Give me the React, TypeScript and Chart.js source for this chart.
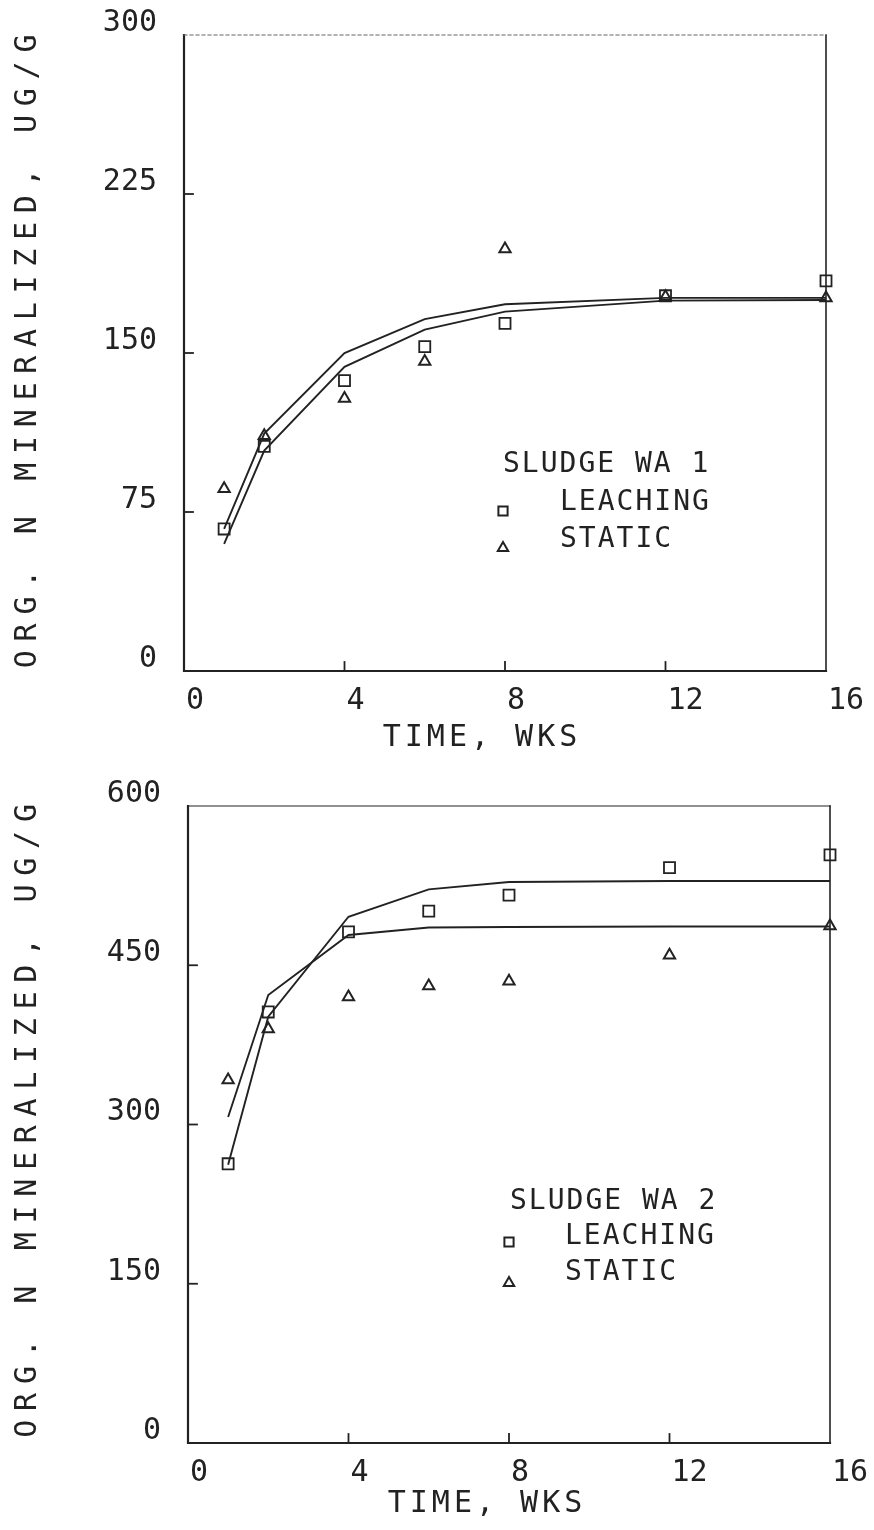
import React, { useEffect, useRef } from 'react';
import { Chart, registerables } from 'chart.js';

Chart.register(...registerables);

// ---------- data ----------
const weeks = [1, 2, 4, 6, 8, 12, 16];
const xTickValues = [0, 4, 8, 12, 16];

// Sludge WA 1
const wa1YTicks = [0, 75, 150, 225, 300];
const wa1Leaching = [67, 106, 137, 153, 164, 177, 184];
const wa1Static = [86, 111, 128.5, 146, 199, 176.5, 176];
const wa1FitA = [67, 112, 150, 166, 173, 176, 176];
const wa1FitB = [60, 104, 143.5, 161, 169.5, 174.7, 175];

// Sludge WA 2
const wa2YTicks = [0, 150, 300, 450, 600];
const wa2Leaching = [263, 406, 481.5, 501, 516, 542, 554];
const wa2Static = [342, 390, 420, 430.5, 435, 459.5, 487];
const wa2FitLeaching = [262, 401.5, 495.7, 521.5, 528.4, 529.3, 529.3];
const wa2FitStatic = [307, 422, 478.5, 485.5, 486, 486.5, 486.5];

const xTitle = 'TIME, WKS';
const yTitle = 'ORG. N MINERALIZED, UG/G';
const legendLeaching = 'LEACHING';
const legendStatic = 'STATIC';

const FONT = '"DejaVu Sans Mono", "Liberation Mono", monospace';
const INK = '#222222';
const W = 874;
const H = 765;

type PanelCfg = {
  legendTitle: string;
  leaching: number[];
  stat: number[];
  fits: number[][];
  yMax: number;
  yTicks: number[];
  area: { left: number; top: number; right: number; bottom: number };
  xTitlePos: { dx: number; dy: number };
  yTitlePos: { x: number; dy: number };
  legend: { titleDx: number; itemDx: number; markDx: number; titleDy: number; l1Dy: number; l2Dy: number; m1Dy: number; m2Dy: number };
  dottedTop: boolean;
};

const panels: PanelCfg[] = [
  {
    legendTitle: 'SLUDGE WA 1',
    leaching: wa1Leaching,
    stat: wa1Static,
    fits: [wa1FitA, wa1FitB],
    yMax: 300,
    yTicks: wa1YTicks,
    area: { left: 184, top: 35, right: 826, bottom: 671 },
    xTitlePos: { dx: 298, dy: 67 },
    yTitlePos: { x: 28, dy: -6 },
    legend: { titleDx: 319, itemDx: 376, markDx: 319, titleDy: 430, l1Dy: 468, l2Dy: 505, m1Dy: 476, m2Dy: 513 },
    dottedTop: true,
  },
  {
    legendTitle: 'SLUDGE WA 2',
    leaching: wa2Leaching,
    stat: wa2Static,
    fits: [wa2FitLeaching, wa2FitStatic],
    yMax: 600,
    yTicks: wa2YTicks,
    area: { left: 188, top: 41, right: 830, bottom: 678 },
    xTitlePos: { dx: 299, dy: 61 },
    yTitlePos: { x: 28, dy: -8 },
    legend: { titleDx: 322, itemDx: 377, markDx: 321, titleDy: 396, l1Dy: 431, l2Dy: 467, m1Dy: 436, m2Dy: 477 },
    dottedTop: false,
  },
];

function drawSquare(ctx: CanvasRenderingContext2D, x: number, y: number, r: number) {
  const s = Math.SQRT1_2 * r;
  ctx.beginPath();
  ctx.rect(x - s, y - s, 2 * s, 2 * s);
  ctx.stroke();
}
function drawTriangle(ctx: CanvasRenderingContext2D, x: number, y: number, r: number) {
  ctx.beginPath();
  ctx.moveTo(x, y - r);
  ctx.lineTo(x + 0.866 * r, y + r / 2);
  ctx.lineTo(x - 0.866 * r, y + r / 2);
  ctx.closePath();
  ctx.stroke();
}

function makeDecorPlugin(cfg: PanelCfg) {
  return {
    id: 'decor',
    afterDraw(chart: any) {
      const { ctx, chartArea: a, scales } = chart;
      ctx.save();
      ctx.strokeStyle = INK;
      ctx.lineCap = 'square';
      // left + bottom axis lines
      ctx.lineWidth = 2.2;
      ctx.beginPath();
      ctx.moveTo(a.left, a.top);
      ctx.lineTo(a.left, a.bottom);
      ctx.lineTo(a.right, a.bottom);
      ctx.stroke();
      // right border
      ctx.lineWidth = 1.6;
      ctx.beginPath();
      ctx.moveTo(a.right, a.bottom);
      ctx.lineTo(a.right, a.top);
      ctx.stroke();
      // top border
      ctx.lineWidth = 1.2;
      if (cfg.dottedTop) {
        ctx.strokeStyle = '#666';
        ctx.setLineDash([3, 3]);
      }
      ctx.beginPath();
      ctx.moveTo(a.left, a.top);
      ctx.lineTo(a.right, a.top);
      ctx.stroke();
      ctx.setLineDash([]);
      ctx.strokeStyle = INK;
      // inward ticks
      ctx.lineWidth = 1.8;
      cfg.yTicks.forEach((v) => {
        if (v === 0 || v === cfg.yMax) return;
        const y = scales.y.getPixelForValue(v);
        ctx.beginPath();
        ctx.moveTo(a.left, y);
        ctx.lineTo(a.left + 9, y);
        ctx.stroke();
      });
      xTickValues.forEach((v) => {
        if (v === 0 || v === 16) return;
        const x = scales.x.getPixelForValue(v);
        ctx.beginPath();
        ctx.moveTo(x, a.bottom);
        ctx.lineTo(x, a.bottom - 9);
        ctx.stroke();
      });

      // axis titles
      ctx.fillStyle = INK;
      ctx.textBaseline = 'middle';
      ctx.textAlign = 'center';
      ctx.font = `30px ${FONT}`;
      (ctx as any).letterSpacing = '4px';
      ctx.fillText(xTitle, a.left + cfg.xTitlePos.dx, a.bottom + cfg.xTitlePos.dy);
      ctx.save();
      (ctx as any).letterSpacing = '8.7px';
      ctx.translate(cfg.yTitlePos.x, (a.top + a.bottom) / 2 + cfg.yTitlePos.dy);
      ctx.rotate(-Math.PI / 2);
      ctx.fillText(yTitle, 0, 0);
      ctx.restore();

      // legend
      const L = cfg.legend;
      ctx.font = `28px ${FONT}`;
      (ctx as any).letterSpacing = '2px';
      ctx.textAlign = 'left';
      ctx.fillText(cfg.legendTitle, a.left + L.titleDx, a.top + L.titleDy);
      ctx.fillText(legendLeaching, a.left + L.itemDx, a.top + L.l1Dy);
      ctx.fillText(legendStatic, a.left + L.itemDx, a.top + L.l2Dy);
      ctx.lineWidth = 2;
      drawSquare(ctx, a.left + L.markDx, a.top + L.m1Dy, 6.5);
      drawTriangle(ctx, a.left + L.markDx, a.top + L.m2Dy, 6);
      (ctx as any).letterSpacing = '0px';
      ctx.restore();
    },
  };
}

function toPts(arr: number[]) {
  return weeks.map((w, i) => ({ x: w, y: arr[i] }));
}

function Panel({ cfg, top }: { cfg: PanelCfg; top: number }) {
  const ref = useRef<HTMLCanvasElement>(null);
  useEffect(() => {
    const a = cfg.area;
    const fitSets = cfg.fits.map((f, i) => ({
      label: 'fit' + i,
      data: toPts(f),
      showLine: true,
      borderColor: INK,
      borderWidth: 1.9,
      pointRadius: 0,
      tension: 0,
      clip: false as any,
    }));
    const chart = new Chart(ref.current as HTMLCanvasElement, {
      type: 'scatter',
      data: {
        datasets: [
          ...fitSets,
          {
            label: legendLeaching,
            data: toPts(cfg.leaching),
            pointStyle: 'rect',
            pointRadius: 7.8,
            borderColor: INK,
            borderWidth: 1.8,
            backgroundColor: 'rgba(255,255,255,0)',
            showLine: false,
            clip: false as any,
          },
          {
            label: legendStatic,
            data: toPts(cfg.stat),
            pointStyle: 'triangle',
            pointRadius: 6.5,
            borderColor: INK,
            borderWidth: 2,
            backgroundColor: 'rgba(255,255,255,0)',
            showLine: false,
            clip: false as any,
          },
        ],
      },
      options: {
        animation: false,
        responsive: false,
        devicePixelRatio: 1,
        events: [],
        layout: { padding: { left: 0, top: a.top, right: W - a.right, bottom: 0 } },
        plugins: { legend: { display: false }, tooltip: { enabled: false } },
        scales: {
          x: {
            type: 'linear',
            min: 0,
            max: 16,
            grid: { display: false, drawTicks: false },
            border: { display: false },
            afterBuildTicks: (s: any) => {
              s.ticks = xTickValues.map((v) => ({ value: v }));
            },
            afterFit: (s: any) => {
              s.height = H - a.bottom;
              s.paddingLeft = 0;
              s.paddingRight = 0;
            },
            ticks: {
              align: 'start',
              labelOffset: 2,
              padding: 12,
              color: INK,
              font: { family: FONT, size: 30 },
              maxRotation: 0,
              autoSkip: false,
              callback: (v: any) => String(v),
            },
          },
          y: {
            type: 'linear',
            min: 0,
            max: cfg.yMax,
            grid: { display: false, drawTicks: false },
            border: { display: false },
            afterBuildTicks: (s: any) => {
              s.ticks = cfg.yTicks.map((v) => ({ value: v }));
            },
            afterFit: (s: any) => {
              s.width = a.left;
              s.paddingTop = 0;
              s.paddingBottom = 0;
            },
            ticks: {
              padding: 27,
              labelOffset: -12,
              color: INK,
              font: { family: FONT, size: 30 },
              autoSkip: false,
              callback: (v: any) => String(v),
            },
          },
        },
      } as any,
      plugins: [makeDecorPlugin(cfg)],
    });
    return () => chart.destroy();
  }, [cfg]);
  return (
    <canvas
      ref={ref}
      width={W}
      height={H}
      style={{ position: 'absolute', left: 0, top, width: W, height: H, display: 'block' }}
    />
  );
}

export default function App() {
  return (
    <div style={{ position: 'absolute', left: 0, top: 0, width: W, height: 2 * H, background: '#fff' }}>
      <Panel cfg={panels[0]} top={0} />
      <Panel cfg={panels[1]} top={H} />
    </div>
  );
}
